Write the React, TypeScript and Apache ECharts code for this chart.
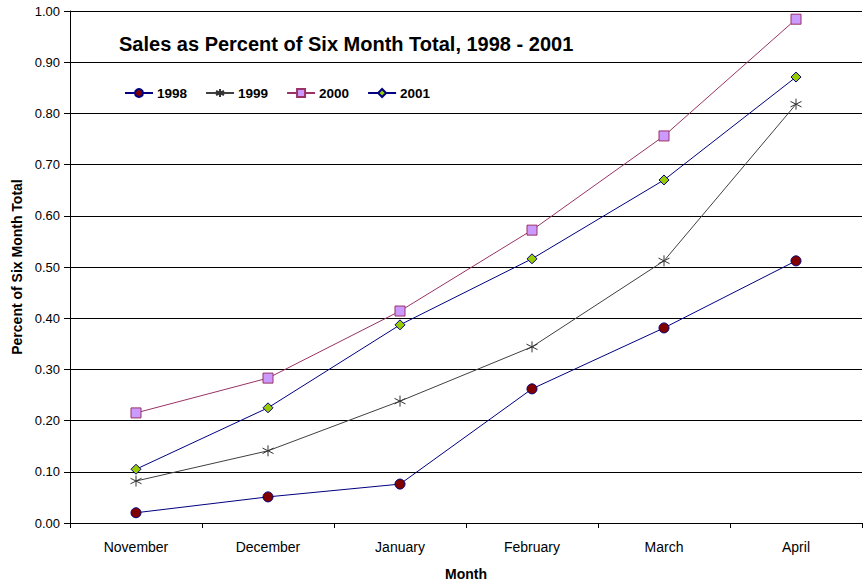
import React, { useEffect, useRef } from "react";
import * as echarts from "echarts";

const months = ["November", "December", "January", "February", "March", "April"];
const s1998 = [0.02, 0.051, 0.076, 0.262, 0.381, 0.512];
const s1999 = [0.082, 0.141, 0.238, 0.344, 0.512, 0.818];
const s2000 = [0.215, 0.283, 0.414, 0.572, 0.756, 0.984];
const s2001 = [0.105, 0.225, 0.387, 0.516, 0.67, 0.871];

const FONT = "Arial, 'Liberation Sans', sans-serif";
const ASTERISK = "path://M5,0L5,10M0.67,2.5L9.33,7.5M0.67,7.5L9.33,2.5";

export default function App() {
  const ref = useRef<HTMLDivElement>(null);
  useEffect(() => {
    if (!ref.current) return;
    const chart = echarts.init(ref.current, undefined, { renderer: "svg" });
    const mk = (name: string, data: number[], line: string, fill: string, border: string, symbol: string, size: number) => ({
      name,
      type: "line",
      data,
      symbol,
      symbolSize: size,
      lineStyle: { color: line, width: 1 },
      itemStyle: { color: fill, borderColor: border, borderWidth: 1 },
      emphasis: { disabled: true },
    });
    chart.setOption({
      animation: false,
      backgroundColor: "#ffffff",
      textStyle: { fontFamily: FONT },
      title: {
        text: "Sales as Percent of Six Month Total, 1998 - 2001",
        left: 114,
        top: 29,
        textStyle: { fontFamily: FONT, fontSize: 20, fontWeight: "bold", color: "#000" },
      },
      legend: {
        left: 119,
        top: 81,
        itemWidth: 28,
        itemHeight: 10,
        itemGap: 18,
        textStyle: { fontFamily: FONT, fontSize: 13.5, fontWeight: "bold", color: "#000", padding: [0, 0, 0, -1] },
        data: ["1998", "1999", "2000", "2001"],
      },
      grid: { left: 70, right: 5, top: 11, bottom: 63, containLabel: false },
      xAxis: {
        type: "category",
        data: months,
        boundaryGap: true,
        name: "Month",
        nameLocation: "middle",
        nameGap: 44,
        nameTextStyle: { fontFamily: FONT, fontSize: 14, fontWeight: "bold", color: "#000" },
        axisLine: { lineStyle: { color: "#000", width: 1 } },
        axisTick: { show: true, length: 5, alignWithLabel: false, lineStyle: { color: "#000" } },
        axisLabel: { fontFamily: FONT, fontSize: 14, color: "#000", margin: 17 },
        splitLine: { show: false },
      },
      yAxis: {
        type: "value",
        min: 0,
        max: 1,
        interval: 0.1,
        name: "Percent of Six Month Total",
        nameLocation: "middle",
        nameGap: 45,
        nameTextStyle: { fontFamily: FONT, fontSize: 14, fontWeight: "bold", color: "#000" },
        axisLine: { show: true, lineStyle: { color: "#000", width: 1 } },
        axisTick: { show: true, length: 6, lineStyle: { color: "#000" } },
        axisLabel: { fontFamily: FONT, fontSize: 13, color: "#000", margin: 10, formatter: (v: number) => v.toFixed(2) },
        splitLine: { show: true, lineStyle: { color: "#000", width: 1 } },
      },
      series: [
        mk("1998", s1998, "#000080", "#800000", "#000080", "circle", 10),
        mk("1999", s1999, "#404040", "#000000", "#333333", ASTERISK, 11),
        mk("2000", s2000, "#993366", "#CC99FF", "#993366", "rect", 10),
        mk("2001", s2001, "#000080", "#99CC00", "#000080", "diamond", 10),
      ],
    });
    return () => chart.dispose();
  }, []);
  return <div ref={ref} style={{ width: 867, height: 586, position: "absolute", left: 0, top: 0 }} />;
}
